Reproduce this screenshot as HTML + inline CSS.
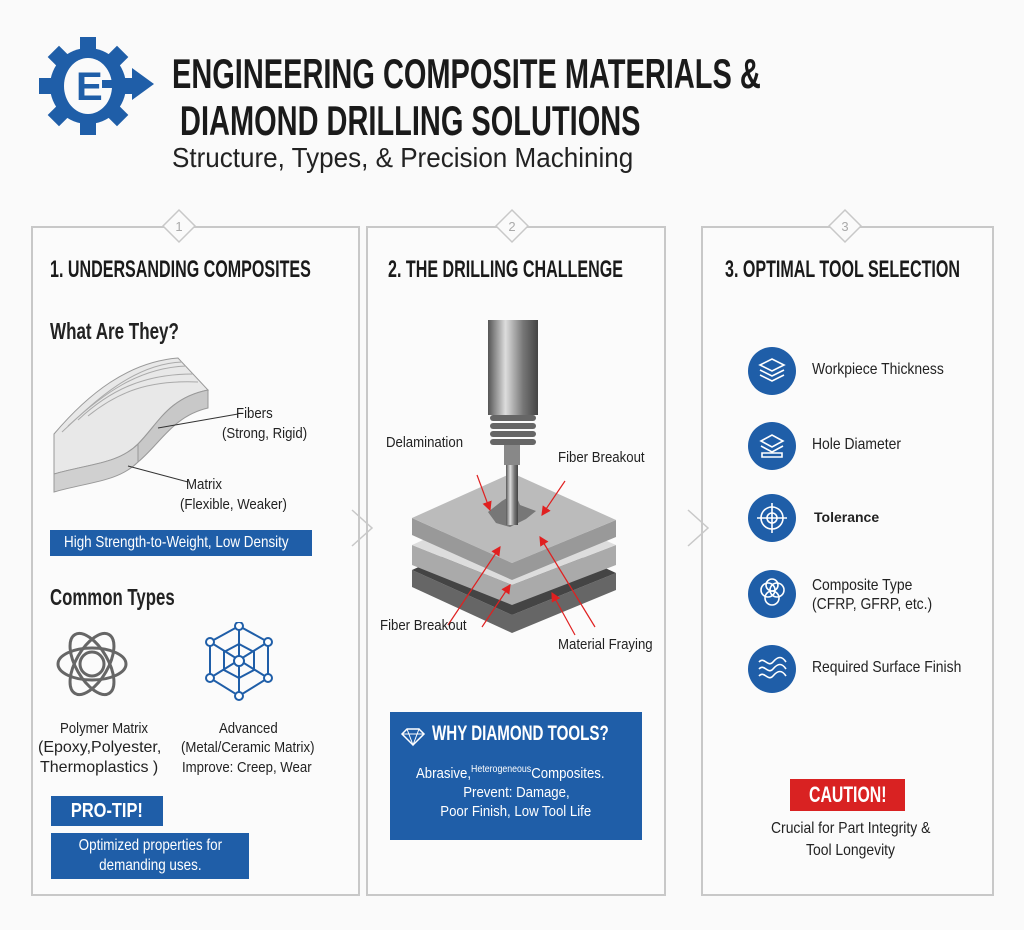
<!DOCTYPE html>
<html><head><meta charset="utf-8"><style>
*{margin:0;padding:0;box-sizing:border-box}
body{width:1024px;height:930px;background:#fafafa;position:relative;overflow:hidden;font-family:"Liberation Sans",sans-serif;color:#222}
.a{position:absolute;white-space:nowrap;transform-origin:0 0}
.panel{position:absolute;border:2px solid #c8c8c8;background:#fbfbfb}
.h{font-size:24px;font-weight:bold;color:#1a1a1a;transform:scaleX(.67)}
.t{font-size:15px;color:#222;transform:scaleX(.88)}
.blue{background:#1f5ea8;color:#fff}
.ic{position:absolute;width:48px;height:48px;border-radius:50%;background:#1f5ea8}
.s{display:inline-block}
</style></head><body>
<!-- logo -->
<svg class="a" style="left:36px;top:36px" width="122" height="100" viewBox="0 0 122 100">
<g fill="#1f5ea8" transform="translate(52,50)">
<circle r="38"/>
<g><rect x="-8" y="-49" width="16" height="14"/><rect x="-8" y="35" width="16" height="14"/><rect x="-49" y="-8" width="14" height="16"/><rect x="35" y="-8" width="14" height="16"/>
<g transform="rotate(45)"><rect x="-8" y="-49" width="16" height="14"/><rect x="-8" y="35" width="16" height="14"/><rect x="-49" y="-8" width="14" height="16"/><rect x="35" y="-8" width="14" height="16"/></g></g>
</g>
<ellipse cx="52" cy="50" rx="24" ry="28" fill="#fafafa"/>
<text x="40" y="64" font-family="Liberation Sans" font-weight="bold" font-size="40" fill="#1f5ea8">E</text>
<rect x="66" y="44" width="34" height="8" fill="#1f5ea8"/>
<polygon points="96,32 118,48 96,64" fill="#1f5ea8"/>
</svg>
<div class="a" style="left:172px;top:50px;font-size:42px;font-weight:bold;line-height:47px;color:#1a1a1a;transform:scaleX(.69)">ENGINEERING COMPOSITE MATERIALS &amp;<br>&nbsp;DIAMOND DRILLING SOLUTIONS</div>
<div class="a" style="left:172px;top:142px;font-size:28px;color:#222;transform:scaleX(.93)">Structure, Types, &amp; Precision Machining</div>

<div class="panel" style="left:31px;top:226px;width:329px;height:670px"></div>
<div class="panel" style="left:366px;top:226px;width:300px;height:670px"></div>
<div class="panel" style="left:701px;top:226px;width:293px;height:670px"></div>
<svg class="a" style="left:0;top:0" width="1024" height="930">
<g fill="#fafafa" stroke="#c8c8c8" stroke-width="1.5">
<polygon points="179,210 195,226 179,242 163,226"/>
<polygon points="512,210 528,226 512,242 496,226"/>
<polygon points="845,210 861,226 845,242 829,226"/>
<polyline points="352,510 372,528 352,546" fill="none"/>
<polyline points="688,510 708,528 688,546" fill="none"/>
</g>
<g font-family="Liberation Sans" font-size="13" fill="#aaa" text-anchor="middle"><text x="179" y="231">1</text><text x="512" y="231">2</text><text x="845" y="231">3</text></g>
</svg>

<!-- Panel 1 -->
<div class="a h" style="left:50px;top:256px">1. UNDERSANDING COMPOSITES</div>
<div class="a" style="left:50px;top:318px;font-size:23px;font-weight:bold;transform:scaleX(.74)">What Are They?</div>
<svg class="a" style="left:48px;top:354px" width="200" height="170">
<path d="M6,80 C40,40 80,8 130,4 L160,36 C120,44 110,70 90,90 C70,110 40,110 6,120 Z" fill="#e8e8e8" stroke="#999"/>
<g stroke="#aaa" fill="none" stroke-width="1">
<path d="M20,72 C55,40 90,14 138,12"/><path d="M30,66 C62,36 96,20 145,20"/><path d="M40,62 C70,38 100,26 150,28"/><path d="M14,78 C48,46 86,10 134,8"/>
</g>
<path d="M6,120 L6,138 C40,128 70,128 90,108 L90,90 C70,110 40,110 6,120Z" fill="#d0d0d0" stroke="#999"/>
<path d="M90,90 C110,70 120,44 160,36 L160,54 C125,62 112,90 90,108Z" fill="#c8c8c8" stroke="#999"/>
<line x1="110" y1="74" x2="190" y2="60" stroke="#333"/>
<line x1="80" y1="112" x2="140" y2="128" stroke="#333"/>
</svg>
<div class="a t" style="left:236px;top:405px">Fibers</div>
<div class="a t" style="left:222px;top:425px">(Strong, Rigid)</div>
<div class="a t" style="left:186px;top:476px">Matrix</div>
<div class="a t" style="left:180px;top:496px">(Flexible, Weaker)</div>
<div class="a blue" style="left:50px;top:530px;width:262px;height:26px;line-height:26px;padding-left:14px;font-size:16px"><span class="s" style="transform:scaleX(.84);transform-origin:0 0">High Strength-to-Weight, Low Density</span></div>
<div class="a" style="left:50px;top:584px;font-size:23px;font-weight:bold;transform:scaleX(.73)">Common Types</div>
<svg class="a" style="left:52px;top:624px" width="80" height="80" viewBox="0 0 80 80"><g fill="none" stroke="#666" stroke-width="3">
<ellipse cx="40" cy="40" rx="34" ry="16"/><ellipse cx="40" cy="40" rx="34" ry="16" transform="rotate(60 40 40)"/><ellipse cx="40" cy="40" rx="34" ry="16" transform="rotate(120 40 40)"/><circle cx="40" cy="40" r="12"/></g></svg>
<svg class="a" style="left:204px;top:622px" width="70" height="80" viewBox="0 0 70 80"><g stroke="#1f5ea8" stroke-width="2" fill="none">
<polygon points="35,4 64,20 64,56 35,74 6,56 6,20"/><line x1="35" y1="4" x2="35" y2="74"/><line x1="6" y1="20" x2="64" y2="56"/><line x1="64" y1="20" x2="6" y2="56"/><polygon points="35,22 50,30 50,48 35,56 20,48 20,30"/></g>
<g fill="#fff" stroke="#1f5ea8" stroke-width="2"><circle cx="35" cy="4" r="4"/><circle cx="64" cy="20" r="4"/><circle cx="64" cy="56" r="4"/><circle cx="35" cy="74" r="4"/><circle cx="6" cy="56" r="4"/><circle cx="6" cy="20" r="4"/><circle cx="35" cy="39" r="5"/></g></svg>
<div class="a t" style="left:60px;top:720px">Polymer Matrix</div>
<div class="a" style="left:38px;top:739px;font-size:16px">(Epoxy,Polyester,</div>
<div class="a" style="left:40px;top:759px;font-size:16px">Thermoplastics )</div>
<div class="a t" style="left:219px;top:720px">Advanced</div>
<div class="a t" style="left:181px;top:739px">(Metal/Ceramic Matrix)</div>
<div class="a t" style="left:182px;top:759px">Improve: Creep, Wear</div>
<div class="a blue" style="left:51px;top:796px;width:112px;height:30px;line-height:30px;text-align:center;font-size:20px;font-weight:bold"><span class="s" style="transform:scaleX(.82)">PRO-TIP!</span></div>
<div class="a blue" style="left:51px;top:833px;width:198px;height:46px;text-align:center;line-height:20px;padding-top:3px;font-size:16px"><span class="s" style="transform:scaleX(.84)">Optimized properties for<br>demanding uses.</span></div>

<!-- Panel 2 -->
<div class="a h" style="left:388px;top:256px">2. THE DRILLING CHALLENGE</div>
<svg class="a" style="left:370px;top:315px" width="290" height="330">
<defs><linearGradient id="m" x1="0" x2="1"><stop offset="0" stop-color="#555"/><stop offset=".35" stop-color="#ddd"/><stop offset=".7" stop-color="#777"/><stop offset="1" stop-color="#444"/></linearGradient>
<marker id="ar" markerWidth="8" markerHeight="8" refX="7" refY="4" orient="auto"><path d="M0,0L8,4L0,8Z" fill="#e02020"/></marker></defs>
<polygon points="42,255 142,300 246,258 246,275 142,318 42,272" fill="#666"/>
<polygon points="42,255 142,210 246,258 142,300" fill="#444"/>
<polygon points="42,230 142,270 246,230 246,250 142,290 42,250" fill="#aaa"/>
<polygon points="42,230 142,185 246,230 142,270" fill="#ddd"/>
<polygon points="42,203 142,248 246,205 246,222 142,265 42,220" fill="#999"/>
<polygon points="42,203 142,158 246,205 142,248" fill="#bbb"/>
<path d="M118,197 L126,208 L140,212 L156,204 L166,196 L150,190 L145,178 L132,186Z" fill="#777"/>
<rect x="118" y="5" width="50" height="95" fill="url(#m)"/>
<g fill="#666"><rect x="120" y="100" width="46" height="6" rx="3"/><rect x="120" y="108" width="46" height="6" rx="3"/><rect x="120" y="116" width="46" height="6" rx="3"/><rect x="120" y="124" width="46" height="6" rx="3"/></g>
<rect x="134" y="130" width="16" height="20" fill="#888"/>
<rect x="136" y="150" width="12" height="60" fill="url(#m)"/>
<g stroke="#e02020" stroke-width="1.2" fill="none" marker-end="url(#ar)">
<line x1="107" y1="160" x2="120" y2="195"/><line x1="195" y1="166" x2="172" y2="200"/>
<line x1="78" y1="310" x2="130" y2="232"/><line x1="112" y1="312" x2="140" y2="270"/>
<line x1="225" y1="312" x2="170" y2="222"/><line x1="205" y1="320" x2="182" y2="278"/></g>
</svg>
<div class="a t" style="left:386px;top:434px">Delamination</div>
<div class="a t" style="left:558px;top:449px">Fiber Breakout</div>
<div class="a t" style="left:380px;top:617px">Fiber Breakout</div>
<div class="a t" style="left:558px;top:636px">Material Fraying</div>
<div class="a blue" style="left:390px;top:712px;width:252px;height:128px"></div>
<svg class="a" style="left:400px;top:727px" width="26" height="20"><polygon points="2,7 7,2 19,2 24,7 13,18" fill="none" stroke="#fff" stroke-width="1.5"/><path d="M2,7H24M7,2L13,18L19,2" fill="none" stroke="#fff"/></svg>
<div class="a" style="left:432px;top:722px;color:#fff;font-size:21px;font-weight:bold;transform:scaleX(.72)">WHY DIAMOND TOOLS?</div>
<div class="a" style="left:416px;top:764px;color:#fff;font-size:15px;transform:scaleX(.88)">Abrasive,<sup style="font-size:10px">Heterogeneous</sup>Composites.</div>
<div class="a" style="left:390px;width:252px;top:784px;color:#fff;font-size:15px;text-align:center"><span class="s" style="transform:scaleX(.88)">Prevent: Damage,</span></div>
<div class="a" style="left:390px;width:252px;top:803px;color:#fff;font-size:15px;text-align:center"><span class="s" style="transform:scaleX(.88)">Poor Finish, Low Tool Life</span></div>

<!-- Panel 3 -->
<div class="a h" style="left:725px;top:256px">3. OPTIMAL TOOL SELECTION</div>
<div class="ic" style="left:748px;top:347px"></div>
<div class="ic" style="left:748px;top:422px"></div>
<div class="ic" style="left:748px;top:494px"></div>
<div class="ic" style="left:748px;top:570px"></div>
<div class="ic" style="left:748px;top:645px"></div>
<svg class="a" style="left:748px;top:345px" width="48" height="360"><g fill="none" stroke="#fff" stroke-width="1.6">
<path d="M12,20 24,14 36,20 24,26Z M12,25 24,31 36,25 M12,30 24,36 36,30"/>
<path d="M13,96 24,90 35,96 24,102Z M13,101 24,107 35,101 M14,108 H34 V112 H14Z"/>
<circle cx="24" cy="173" r="11"/><circle cx="24" cy="173" r="5"/><path d="M24,158V188M9,173H39"/>
<circle cx="20" cy="245" r="7"/><circle cx="29" cy="245" r="7"/><circle cx="24" cy="253" r="7"/><circle cx="24" cy="240" r="6"/>
<path d="M11,317 c5,-6 9,6 14,0 s9,-6 13,0 M11,324 c5,-6 9,6 14,0 s9,-6 13,0 M11,331 c5,-6 9,6 14,0 s9,-6 13,0"/></g></svg>
<div class="a t" style="left:812px;top:361px;font-size:16px;transform:scaleX(.87)">Workpiece Thickness</div>
<div class="a t" style="left:812px;top:436px;font-size:16px;transform:scaleX(.87)">Hole Diameter</div>
<div class="a" style="left:814px;top:509px;font-size:14px;font-weight:bold">Tolerance</div>
<div class="a t" style="left:812px;top:577px;font-size:16px;transform:scaleX(.87)">Composite Type</div>
<div class="a t" style="left:812px;top:596px;font-size:16px;transform:scaleX(.87)">(CFRP, GFRP, etc.)</div>
<div class="a t" style="left:812px;top:659px;font-size:16px;transform:scaleX(.87)">Required Surface Finish</div>
<div class="a" style="left:790px;top:779px;width:115px;height:32px;background:#d92222;color:#fff;font-size:22px;font-weight:bold;text-align:center;line-height:32px"><span class="s" style="transform:scaleX(.72)">CAUTION!</span></div>
<div class="a t" style="left:771px;top:820px;font-size:16px;transform:scaleX(.87)">Crucial for Part Integrity &amp;</div>
<div class="a t" style="left:806px;top:842px;font-size:16px;transform:scaleX(.87)">Tool Longevity</div>
</body></html>
